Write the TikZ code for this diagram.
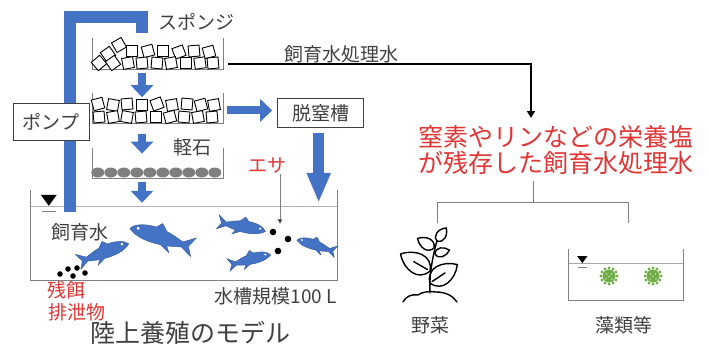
\documentclass[tikz,border=0pt]{standalone}
\usepackage{fontspec}
\newfontfamily\jp{Noto Sans CJK JP}
\usepackage{tikz}
\usetikzlibrary{arrows.meta,positioning,calc}

\definecolor{pipeblue}{RGB}{68,114,196}
\definecolor{fishline}{RGB}{47,85,151}
\definecolor{warnred}{RGB}{224,54,54}
\definecolor{ink}{RGB}{64,64,64}
\definecolor{algae}{RGB}{112,173,71}
\definecolor{stonegray}{RGB}{127,127,127}

\tikzset{
    jtext/.style={
           font=\jp\fontsize{19}{22}\selectfont,
           text=ink,
           inner sep=0pt,
           },
    warn/.style={
           jtext,
           text=warnred
           },
    big/.style={
           font=\jp\fontsize{25}{26}\selectfont
           },
    box/.style={
           jtext,
           rectangle,
           draw=ink, line width=1pt,
           fill=white,
           },
    filter/.style={
           rectangle,
           minimum width=130pt,
           minimum height=30pt,
           inner sep=0pt
           },
    wall/.style={
           draw=gray, line width=1pt
           },
    pipe/.style={
           draw=pipeblue, line width=12pt
           },
    flow/.style={
           draw=pipeblue, line width=8pt,
           -{Triangle[width=22pt,length=12pt]}
           },
    bigflow/.style={
           draw=pipeblue, line width=11pt,
           -{Triangle[width=22pt,length=30pt]}
           },
    outflow/.style={
           draw=black, line width=2pt,
           -{Triangle[width=8pt,length=7pt]}
           },
    feed/.style={
           draw=gray, line width=0.8pt,
           -{Triangle[width=5pt,length=5pt,fill=black]}
           },
    branch/.style={
           draw=gray, line width=1pt
           },
    plant/.style={
           draw=black, line width=1.4pt,
           line cap=round, line join=round
           },
    % small pieces that repeat
    cube/.pic={
           \draw[black, line width=0.9pt, fill=white] (-5.5,-5.5) rectangle (5.5,5.5);
           },
    fish/.pic={
           \fill[pipeblue, draw=fishline, line width=0.4pt]
             (25,0) .. controls (23,-4) and (16,-7) .. (6,-7)
             -- (2,-11) -- (-3,-6)
             .. controls (-9,-5) and (-14,-3) .. (-17,-2)
             -- (-26,-8) -- (-22,0) -- (-26,7) -- (-17,2)
             .. controls (-13,3) and (-9,4) .. (-6,4.5)
             -- (-9,9) -- (-1,5)
             .. controls (8,6) and (19,5) .. (25,0) -- cycle;
           \fill[white] (19,-2) circle (1.3);
           },
    leaf/.pic={
           \draw[plant] (0,0) .. controls (0.15,0.45) and (0.7,0.35) .. (1,0)
                              .. controls (0.7,-0.35) and (0.15,-0.45) .. (0,0);
           },
    bigleaf/.pic={
           \draw[plant] (0,0) .. controls (0.15,0.45) and (0.7,0.35) .. (1,0)
                              .. controls (0.7,-0.35) and (0.15,-0.45) .. (0,0);
           \draw[plant] (0.08,0) -- (0.55,0);
           },
    alga/.pic={
           \fill[algae] (0,0) circle (6.5);
           \foreach \a in {0,30,...,330} \fill[algae] (\a:8) circle (1.6);
           \foreach \p in {(-2.5,-2),(2.5,-2),(0,0.5),(-3,3),(3,3)} \fill[white!60!algae] \p circle (0.9);
           },
    level/.pic={
           \fill[black] (-8,-12) -- (8,-12) -- (0,-1) -- cycle;
           \draw[gray, line width=0.8pt] (-7,5) -- (7,5);
           },
}

\begin{document}
\begin{tikzpicture}[x=1pt, y=-1pt]
  \useasboundingbox (0,0) rectangle (709,345);

  % filter stages and tanks
  \node[filter, minimum height=31pt] (sponge1) at (158,53.5) {};
  \node[filter] (sponge2) [below=24pt of sponge1] {};
  \node[filter] (pumice)  [below=24pt of sponge2] {};
  \node[rectangle, minimum width=306pt, minimum height=90pt, inner sep=0pt] (tank) at (184,235) {};
  \node[rectangle, minimum width=114pt, minimum height=51pt, inner sep=0pt] (algtank) at (626,274.5) {};
  \foreach \f in {sponge1,sponge2,pumice,tank,algtank}
    \draw[wall] (\f.north west) |- (\f.south east) -- (\f.north east);

  % sponge cubes
  \foreach \x/\y/\r in {119/45/30, 108/54/35, 132/51/0, 148/51/15, 163/51/0, 179/52/20, 194/51/5, 209/52/15,
                        99/63/40, 113/63/35, 128/63/10, 142/63/5, 157/63/-5, 171/63/10, 186/63/0, 200/63/8, 213/63/5}
    \pic[rotate=\r] at (\x,\y) {cube};
  \foreach \x/\y/\r in {98/104/15, 113/105/-10, 127/104/5, 142/105/0, 157/104/20, 172/105/10, 187/104/-5, 201/105/15, 214/105/10,
                        99/117/5, 113/117/10, 127/117/-10, 141/117/5, 156/117/0, 170/117/15, 184/117/-5, 198/117/10, 212/117/5}
    \pic[rotate=\r] at (\x,\y) {cube};

  % pumice stones
  \foreach \i in {0,...,9}
    \fill[stonegray] ($(pumice.south west)+(5+13*\i,-5.5)$) ellipse [x radius=6.5, y radius=5];

  % water surface
  \draw[gray!60, line width=0.8pt] ($(tank.north west)+(0,17)$) -- ($(tank.north east)+(0,17)$);
  \pic at ($(tank.north west)+(18,17)$) {level};
  \draw[gray!70, line width=0.8pt] ($(algtank.north west)+(0,15)$) -- ($(algtank.north east)+(0,15)$);
  \pic[scale=0.65] at ($(algtank.north west)+(13.5,15)$) {level};

  % return pipe through the pump
  \draw[pipe] ($(tank.north west)+(39,22)$) |- ($(sponge1.north west)+(49,-20.5)$)
              -- ($(sponge1.north west)+(49,-5)$);
  \node[box, minimum width=76pt, minimum height=37pt] (pump) at (51,121.5) {ポンプ};
  \node[box, minimum width=86pt, minimum height=29pt] (denit) [right=54pt of sponge2, yshift=-4.5pt] {脱窒槽};

  % flows
  \draw[flow] ($(sponge1.south)+(-16,4)$) -- ($(sponge2.north)+(-16,4)$);
  \draw[flow] ($(sponge2.south)+(-16,10)$) -- ($(pumice.north)+(-16,6)$);
  \draw[flow] ($(pumice.south)+(-16,4)$) -- ($(tank.north)+(-42,13)$);
  \draw[flow] ($(sponge2.east)+(4,2)$) -- ($(denit.west)+(-5,-2.5)$);
  \draw[bigflow] ($(denit.south)+(-2,5)$) -- ($(denit.south)+(-2,75)$);

  \coordinate (drop) at (531,118);
  \draw[outflow] ($(sponge1.east)+(5,10.5)$) -| (drop);

  % labels
  \node[jtext] (spongelabel) at (196,22)  {スポンジ};
  \node[jtext] (outlabel)    at (341,54)  {飼育水処理水};
  \node[jtext] (pumicelabel) at (192,147) {軽石};
  \node[jtext] (water)       at (80,232)  {飼育水};
  \node[warn]  (leftover)    at (66,290)  {残餌};
  \node[warn]  (waste)       at (77,312)  {排泄物};
  \node[jtext, anchor=north east] (volume) at ($(tank.south east)+(0,7)$) {水槽規模100 L};
  \node[jtext, big] (title)  at (190,332.5) {陸上養殖のモデル};
  \node[warn, big, align=center] (nutrient) at (556,150) {窒素やリンなどの栄養塩\\が残存した飼育水処理水};

  % feed
  \node[warn] (esa) at (267,166) {エサ};
  \coordinate (bait) at (280,224);
  \draw[feed] (esa.south -| bait) -- (bait);
  \foreach \p in {(273,232),(288,239),(278,251)} \fill \p circle (3.3);
  \foreach \p in {(60,274),(68,269),(73,276),(77,268),(85,273)} \fill \p circle (2.8);

  % fish
  \pic[rotate=-17, xscale=-1, scale=1.3]  at (161,238) {fish};
  \pic[rotate=20, scale=1.05]             at (104,253) {fish};
  \pic[rotate=-11, scale=0.95]            at (242,227) {fish};
  \pic[rotate=14, scale=0.85]             at (250,260) {fish};
  \pic[rotate=-17, xscale=-1, scale=0.8]  at (316,246) {fish};

  % where the treated water goes
  \coordinate (forktop) at (533,181);
  \coordinate (fork)    at (533,202);
  \coordinate (vegtop)  at (437,223);
  \coordinate (algtop)  at (628,223);
  \draw[branch] (forktop) -- (fork) -| (vegtop);
  \draw[branch] (fork) -| (algtop);

  % seedling
  \draw[plant] (403,302) .. controls (406,296) and (412,294) .. (418,295)
               .. controls (422,292) and (428,291) .. (436,292)
               .. controls (446,292) and (453,296) .. (457,302);
  \draw[plant] (430,293) .. controls (429,278) and (432,258) .. (437,241);
  \pic[rotate=150, scale=34] at (430,271) {bigleaf};
  \pic[rotate=34, scale=33]  at (430,283) {bigleaf};
  \pic[rotate=150, scale=19] at (434,248) {leaf};
  \pic[rotate=15, scale=15]  at (435,254) {leaf};
  \pic[rotate=55, scale=16]  at (437,241) {leaf};
  \node[jtext] (veg) at (430,325) {野菜};

  % algae
  \pic at (609,276) {alga};
  \pic at (653,276) {alga};
  \node[jtext] (alg) at (624,325) {藻類等};
\end{tikzpicture}
\end{document}
